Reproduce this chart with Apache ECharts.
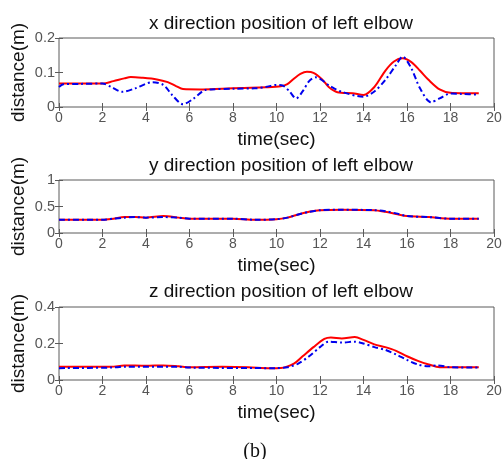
<!DOCTYPE html>
<html>
<head>
<meta charset="utf-8">
<script src="https://cdn.jsdelivr.net/npm/echarts@6/dist/echarts.min.js"></script>
<style>
  html, body { margin: 0; padding: 0; background: #fff; }
  #chart { width: 503px; height: 459px; }
</style>
</head>
<body>
<div id="chart"></div>
<script>
// x direction
const xRedT = [0, 1, 2, 2.5, 3, 3.3, 3.8, 4.5, 5, 5.4, 5.7, 6.5, 7.5, 8.5, 9.5, 10.2, 10.5, 10.8, 11.1, 11.4, 11.7, 12.1, 12.4, 12.8, 13.5, 14, 14.5, 15, 15.4, 15.8, 16.2, 16.6, 17, 17.5, 18, 18.5, 19.3]
const xRed = [0.068, 0.068, 0.068, 0.075, 0.083, 0.087, 0.085, 0.08, 0.072, 0.06, 0.052, 0.051, 0.053, 0.055, 0.057, 0.06, 0.066, 0.082, 0.096, 0.102, 0.099, 0.08, 0.058, 0.043, 0.04, 0.035, 0.058, 0.105, 0.132, 0.141, 0.13, 0.105, 0.078, 0.051, 0.041, 0.04, 0.04]
const xBlueT = [0, 0.2, 1, 2, 2.4, 2.9, 3.5, 4.3, 4.8, 5.2, 5.7, 6.2, 6.7, 7, 8, 9, 9.5, 10, 10.3, 10.6, 10.9, 11.2, 11.5, 11.8, 12.5, 13, 14, 14.5, 15, 15.5, 15.8, 16.2, 16.6, 17.1, 17.5, 18, 18.5, 19.3]
const xBlue = [0.058, 0.066, 0.067, 0.068, 0.058, 0.044, 0.054, 0.072, 0.064, 0.035, 0.008, 0.025, 0.049, 0.051, 0.053, 0.054, 0.058, 0.064, 0.062, 0.045, 0.025, 0.045, 0.075, 0.086, 0.059, 0.044, 0.03, 0.045, 0.078, 0.122, 0.146, 0.112, 0.054, 0.014, 0.025, 0.039, 0.038, 0.036]

// y direction
const yRedT = [0, 2, 2.5, 3, 3.5, 4, 4.8, 5.5, 6, 8, 9, 10, 10.5, 11, 11.5, 12, 13, 14.5, 15, 15.5, 16, 17, 18, 19.3]
const yRed = [0.25, 0.25, 0.27, 0.3, 0.3, 0.29, 0.32, 0.29, 0.27, 0.27, 0.25, 0.26, 0.29, 0.35, 0.4, 0.43, 0.44, 0.43, 0.4, 0.36, 0.32, 0.3, 0.27, 0.27]
const yBlueT = [0, 2, 2.5, 3, 3.5, 4, 4.8, 5.5, 6, 8, 9, 10, 10.5, 11, 11.5, 12, 13, 14.5, 15, 15.5, 16, 17, 18, 19.3]
const yBlue = [0.25, 0.25, 0.27, 0.29, 0.3, 0.29, 0.3, 0.29, 0.27, 0.27, 0.25, 0.26, 0.29, 0.35, 0.4, 0.43, 0.44, 0.43, 0.41, 0.37, 0.32, 0.3, 0.27, 0.27]

// z direction
const zRedT = [0, 2.4, 3, 4, 4.8, 5.5, 6, 7.5, 8.7, 9.7, 10.2, 10.8, 11.2, 11.7, 12.2, 12.5, 13, 13.6, 14, 14.5, 15, 15.5, 16, 16.5, 17, 17.5, 19.3]
const zRed = [0.072, 0.072, 0.08, 0.078, 0.08, 0.075, 0.07, 0.072, 0.07, 0.065, 0.066, 0.09, 0.13, 0.18, 0.225, 0.233, 0.228, 0.235, 0.22, 0.195, 0.18, 0.16, 0.13, 0.105, 0.085, 0.07, 0.07]
const zBlueT = [0, 2.4, 3, 5.5, 6, 10, 10.5, 11, 11.5, 12, 12.4, 13, 13.6, 14, 14.5, 15, 15.5, 16, 16.5, 17, 17.4, 18, 19.3]
const zBlue = [0.065, 0.068, 0.073, 0.073, 0.068, 0.065, 0.07, 0.09, 0.13, 0.18, 0.21, 0.205, 0.21, 0.2, 0.18, 0.165, 0.14, 0.11, 0.085, 0.075, 0.08, 0.07, 0.068]

const xTicks = { min: 0, max: 20, interval: 2 }
const panels = [
  { title: 'x direction position of left elbow', top: 38, height: 69, yMax: 0.2, yStep: 0.1, red: [xRedT, xRed], blue: [xBlueT, xBlue], titleTop: 9 },
  { title: 'y direction position of left elbow', top: 180, height: 53, yMax: 1, yStep: 0.5, red: [yRedT, yRed], blue: [yBlueT, yBlue], titleTop: 151 },
  { title: 'z direction position of left elbow', top: 307, height: 73, yMax: 0.4, yStep: 0.2, red: [zRedT, zRed], blue: [zBlueT, zBlue], titleTop: 277 }
]

const zip = (t, v) => t.map((x, i) => [x, v[i]])
const font = 'Liberation Sans, Arial, sans-serif'
const boxColor = '#5a5a5a'

const grid = [], xAxis = [], yAxis = [], series = [], title = []

panels.forEach((p, i) => {
  grid.push({
    left: 59, right: 9, top: p.top, height: p.height, outerBoundsMode: 'none',
    show: true, borderColor: boxColor, borderWidth: 1
  })
  title.push({
    text: p.title, left: 276, top: p.titleTop, textAlign: 'center',
    textStyle: { fontFamily: font, fontSize: 19, fontWeight: 'normal', color: '#111' }
  })
  // bottom + top x axes
  xAxis.push({
    type: 'value', gridIndex: i, ...xTicks, position: 'bottom',
    name: 'time(sec)', nameLocation: 'middle', nameGap: 23, nameMoveOverlap: false,
    nameTextStyle: { fontFamily: font, fontSize: 19, color: '#111' },
    axisLine: { show: false },
    axisTick: { inside: true, length: 4, lineStyle: { color: boxColor } },
    axisLabel: { fontFamily: font, fontSize: 14, color: '#555', margin: 4 },
    splitLine: { show: false }
  })
  xAxis.push({
    type: 'value', gridIndex: i, ...xTicks, position: 'top',
    axisLine: { show: false },
    axisTick: { inside: true, length: 4, lineStyle: { color: boxColor } },
    axisLabel: { show: false }, splitLine: { show: false }
  })
  // left + right y axes
  yAxis.push({
    type: 'value', gridIndex: i, min: 0, max: p.yMax, interval: p.yStep, position: 'left',
    name: 'distance(m)', nameLocation: 'middle', nameGap: 31, nameRotate: 90, nameMoveOverlap: false,
    nameTextStyle: { fontFamily: font, fontSize: 19, color: '#111' },
    axisLine: { show: false },
    axisTick: { inside: true, length: 4, lineStyle: { color: boxColor } },
    axisLabel: { fontFamily: font, fontSize: 14.5, color: '#555', margin: 4 },
    splitLine: { show: false }
  })
  yAxis.push({
    type: 'value', gridIndex: i, min: 0, max: p.yMax, interval: p.yStep, position: 'right',
    axisLine: { show: false },
    axisTick: { inside: true, length: 4, lineStyle: { color: boxColor } },
    axisLabel: { show: false }, splitLine: { show: false }
  })
  series.push({
    type: 'line', xAxisIndex: i * 2, yAxisIndex: i * 2, data: zip(...p.red),
    smooth: 0.3, symbol: 'none', lineStyle: { color: '#ff0000', width: 2 }
  })
  series.push({
    type: 'line', xAxisIndex: i * 2, yAxisIndex: i * 2, data: zip(...p.blue),
    smooth: 0.3, symbol: 'none', lineStyle: { color: '#0000ee', width: 2, type: [6, 3, 2, 3] }
  })
})

title.push({
  text: '(b)', left: 250, top: 437, textAlign: 'center',
  textStyle: { fontFamily: 'Liberation Serif, Times New Roman, serif', fontSize: 20, fontWeight: 'normal', color: '#111' }
})

const chart = echarts.init(document.getElementById('chart'))
chart.setOption({ animation: false, title, grid, xAxis, yAxis, series })
</script>
</body>
</html>
